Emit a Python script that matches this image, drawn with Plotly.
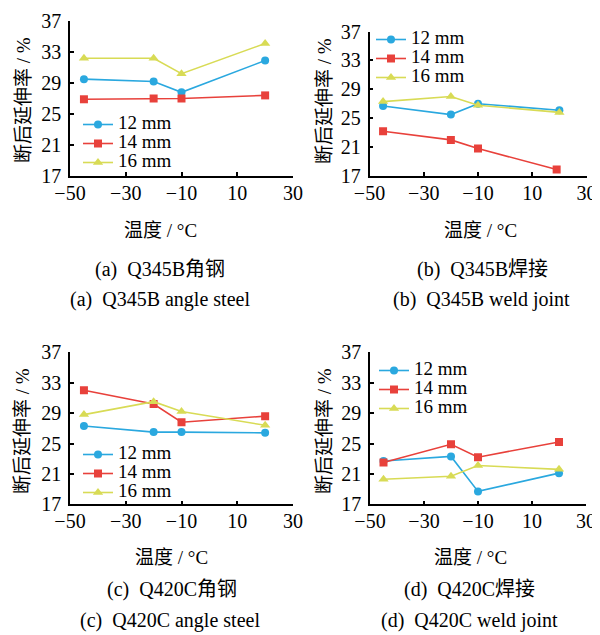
import plotly.graph_objects as go

W, H = 600, 635
OFF = 8  # page body margin offset in the screenshot

temps = [-45, -20, -10, 20]
temps_b14 = [-45, -20, -10, 19]
series_names = ["12 mm", "14 mm", "16 mm"]

a_12 = [29.5, 29.2, 27.8, 31.9]
a_14 = [26.9, 27.0, 27.0, 27.4]
a_16 = [32.2, 32.2, 30.2, 34.1]

b_12 = [26.7, 25.5, 27.0, 26.1]
b_14 = [23.2, 22.0, 20.8, 17.9]
b_16 = [27.3, 28.0, 26.8, 25.8]

c_12 = [27.3, 26.5, 26.5, 26.4]
c_14 = [32.0, 30.2, 27.8, 28.6]
c_16 = [28.8, 30.5, 29.2, 27.4]

d_12 = [22.7, 23.3, 18.7, 21.1]
d_14 = [22.5, 24.9, 23.2, 25.2]
d_16 = [20.3, 20.7, 22.1, 21.6]

y_title = "断后延伸率 / %"
x_title = "温度 / °C"
captions_cn = ["(a)\u00a0\u00a0Q345B角钢", "(b)\u00a0\u00a0Q345B焊接", "(c)\u00a0\u00a0Q420C角钢", "(d)\u00a0\u00a0Q420C焊接"]
captions_en = ["(a)\u00a0\u00a0Q345B angle steel", "(b)\u00a0\u00a0Q345B weld joint",
               "(c)\u00a0\u00a0Q420C angle steel", "(d)\u00a0\u00a0Q420C weld joint"]

colors = ["#2aa8df", "#e8413b", "#d8db55"]
symbols = ["circle", "square", "triangle-up"]
msize = [8, 8, 9]

FONT = "'Liberation Serif', 'Times New Roman', 'Noto Sans CJK SC', serif"

fig = go.Figure()

panels = [
    ("", [temps, temps, temps], [a_12, a_14, a_16], "legend"),
    ("2", [temps, temps_b14, temps], [b_12, b_14, b_16], "legend2"),
    ("3", [temps, temps, temps], [c_12, c_14, c_16], "legend3"),
    ("4", [temps, temps, temps], [d_12, d_14, d_16], "legend4"),
]

for ax, xs, ys, lg in panels:
    for i in range(3):
        fig.add_trace(go.Scatter(
            x=xs[i], y=ys[i], mode="lines+markers",
            name='<span style="font-size:19px">' + series_names[i] + '</span>',
            line=dict(color=colors[i], width=1.6),
            marker=dict(color=colors[i], symbol=symbols[i], size=msize[i]),
            xaxis="x" + ax, yaxis="y" + ax, legend=lg,
        ))

def px_x(p):
    return (p - OFF) / W

def px_y(p):
    return 1 - (p - OFF) / H

# domains (screen pixels)
doms = {
    "": ((70, 293), (21, 176)),
    "2": ((369.5, 586.5), (31.5, 176)),
    "3": ((70, 293), (352.3, 504.3)),
    "4": ((370, 586), (352.3, 504.3)),
}

axis_common = dict(showline=True, linecolor="black", linewidth=1.5, ticks="inside",
                   ticklen=4, tickwidth=1.5, tickcolor="black", showgrid=False,
                   zeroline=False, tickfont=dict(family=FONT, size=20, color="black"),
                   mirror=False, automargin=False)
layout = {}
for key, ((x0, x1), (ytop, ybot)) in doms.items():
    layout["xaxis" + key] = dict(domain=[px_x(x0), px_x(x1)], range=[-50, 30], tick0=-50, dtick=20,
                                 anchor="y" + key, ticklabelstandoff=-2, **axis_common)
    layout["yaxis" + key] = dict(domain=[px_y(ybot), px_y(ytop)], range=[17, 37], tick0=17, dtick=4,
                                 anchor="x" + key, ticklabelstandoff=3, **axis_common)
fig.update_layout(**layout)

leg_common = dict(bgcolor="rgba(0,0,0,0)", borderwidth=0, font=dict(family=FONT, size=12, color="black"),
                  xanchor="left", yanchor="top", tracegroupgap=0, itemwidth=30)
fig.update_layout(
    legend=dict(x=px_x(78), y=px_y(110), **leg_common),
    legend2=dict(x=px_x(371), y=px_y(25), **leg_common),
    legend3=dict(x=px_x(78), y=px_y(440), **leg_common),
    legend4=dict(x=px_x(374), y=px_y(356), **leg_common),
)

ann = []
tfont = dict(family=FONT, size=19, color="black")
for (xc, yc) in [(23, 100), (325, 101), (23, 431), (325, 431)]:
    ann.append(dict(text=y_title, x=px_x(xc), y=px_y(yc), xref="paper", yref="paper",
                    showarrow=False, textangle=-90, font=tfont, xanchor="center", yanchor="middle"))
for (xc, yc) in [(160, 230), (480, 230), (171, 557), (471, 557)]:
    ann.append(dict(text=x_title, x=px_x(xc), y=px_y(yc), xref="paper", yref="paper",
                    showarrow=False, font=tfont, xanchor="center", yanchor="middle"))
cfont = dict(family=FONT, size=20, color="black")
for t, (xc, yc) in zip(captions_cn, [(160, 269), (482, 269), (172, 589), (469, 589)]):
    ann.append(dict(text=t, x=px_x(xc), y=px_y(yc), xref="paper", yref="paper",
                    showarrow=False, font=cfont, xanchor="center", yanchor="middle"))
for t, (xc, yc) in zip(captions_en, [(160, 299), (481, 299), (170, 620), (469, 620)]):
    ann.append(dict(text=t, x=px_x(xc), y=px_y(yc), xref="paper", yref="paper",
                    showarrow=False, font=cfont, xanchor="center", yanchor="middle"))

fig.update_layout(
    annotations=ann,
    width=W, height=H,
    margin=dict(l=0, r=0, t=0, b=0, autoexpand=False),
    paper_bgcolor="white", plot_bgcolor="white",
    showlegend=True,
)

fig.write_html("out.html")
